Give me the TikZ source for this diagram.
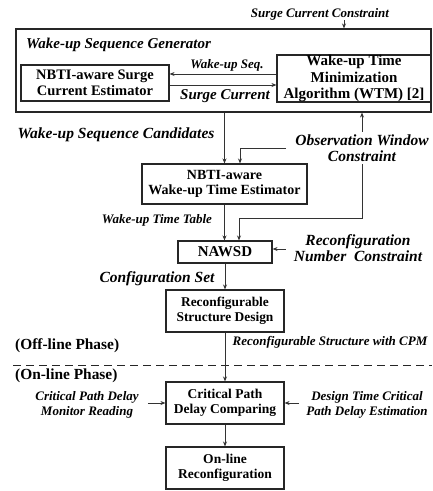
\documentclass[tikz,border=0pt]{standalone}
\usepackage{fontspec}
\setmainfont{Liberation Serif}
\usetikzlibrary{arrows.meta}

\begin{document}
\begin{tikzpicture}[x=1pt,y=-1pt,
    blk/.style 2 args={draw=black!85,line width=1.1pt,align=center,inner sep=0pt,
      font=\bfseries\fontsize{#1}{#2}\selectfont},
    lbl/.style 2 args={align=center,inner sep=0pt,
      font=\bfseries\itshape\fontsize{#1}{#2}\selectfont},
    arr/.style={draw=black!80,line width=0.9pt,-{Stealth[length=5pt,width=4pt]}},
    lin/.style={draw=black!80,line width=0.9pt}]
    \useasboundingbox (0,0) rectangle (432,491);
    %% wake-up sequence generator
    \node[lbl={13}{15}] (scc) at (320,14) {Surge Current Constraint};
    \node[blk={15}{16},minimum width=415pt,minimum height=83pt] (gen) at (223.5,70.5) {};
    \node[lbl={15}{17},anchor=west] (gentitle) at (26,45) {Wake-up Sequence Generator};
    \node[blk={14.5}{16},minimum width=148pt,minimum height=36pt] (sce) at (95,83) {NBTI-aware Surge\\Current Estimator};
    \node[blk={15}{16.3},minimum width=154pt,minimum height=47pt] (wtm) at (354,78.5) {Wake-up Time\\Minimization\\Algorithm (WTM) [2]};
    \node[lbl={13}{15}] (seq) at (227,65) {Wake-up Seq.};
    \node[lbl={15}{17}] (surge) at (225,96) {Surge Current};
    \draw[arr] (scc.south -| 344,0) -- (gen.north -| 344,0);
    \draw[arr] (wtm.west |- 0,74) -- (sce.east |- 0,74);
    \draw[arr] (sce.east |- 0,85) -- (wtm.west |- 0,85);
    %% wake-up time estimation
    \node[lbl={15.5}{17}] (cand) at (116,135) {Wake-up Sequence Candidates};
    \node[lbl={15.5}{15.5},inner sep=3pt] (obs) at (362,148) {Observation Window\\Constraint};
    \node[blk={14}{15.5},minimum width=165pt,minimum height=40pt] (est) at (224.5,184) {NBTI-aware\\Wake-up Time Estimator};
    \node[lbl={13}{15}] (table) at (157,220) {Wake-up Time Table};
    \draw[arr] (gen.south -| 224.5,0) -- (est.north -| 224.5,0);
    \draw[arr] ([xshift=-6pt]obs.west |- 0,148) -| (est.north -| 240,0);
    \draw[arr] (obs.north -| 362,0) -- (gen.south -| 362,0);
    %% NAWSD
    \node[blk={15}{16},minimum width=94pt,minimum height=22pt] (nawsd) at (225,252) {NAWSD};
    \node[lbl={15.5}{15.5}] (rnc) at (358,248) {Reconfiguration\\Number\ \ Constraint};
    \node[lbl={15.5}{17}] (cfg) at (157,279) {Configuration Set};
    \draw[arr] (obs.south -| 362,0) |- (239,218) -- (nawsd.north -| 239,0);
    \draw[arr] (est.south -| 224.5,0) -- (nawsd.north -| 224.5,0);
    \draw[arr] ([xshift=-8pt]rnc.west |- 0,249) -- (nawsd.east |- 0,249);
    %% structure design
    \node[blk={13.4}{15.5},minimum width=118pt,minimum height=42pt] (rsd) at (225,311) {Reconfigurable\\Structure Design};
    \draw[arr] (nawsd.south) -- (rsd.north);
    \node[font=\bfseries\fontsize{15.4}{17}\selectfont,inner sep=0pt,anchor=west] (off) at (15,346) {(Off-line Phase)};
    \node[lbl={13}{15}] (cpm) at (330,342) {Reconfigurable Structure with CPM};
    \draw[black!85,line width=1.1pt,dash pattern=on 8pt off 5pt] (13,365.5) -- (432,365.5);
    \node[font=\bfseries\fontsize{15.4}{17}\selectfont,inner sep=0pt,anchor=west] (on) at (15,376) {(On-line Phase)};
    %% on-line phase
    \node[blk={13.5}{15.5},minimum width=118pt,minimum height=42pt] (cpd) at (225,403) {Critical Path\\Delay Comparing};
    \node[lbl={13}{15}] (mon) at (87,404.5) {Critical Path Delay\\Monitor Reading};
    \node[lbl={13}{15}] (dte) at (367,404.5) {Design Time Critical\\Path Delay Estimation};
    \node[blk={13.5}{15.5},minimum width=118pt,minimum height=42pt] (orc) at (225,468) {On-line\\Reconfiguration};
    \draw[arr] (rsd.south) -- (cpd.north);
    \draw[arr] ([xshift=9pt]mon.east |- cpd.west) -- (cpd.west);
    \draw[arr] ([xshift=-7pt]dte.west |- cpd.east) -- (cpd.east);
    \draw[arr] (cpd.south) -- (orc.north);
\end{tikzpicture}
\end{document}
